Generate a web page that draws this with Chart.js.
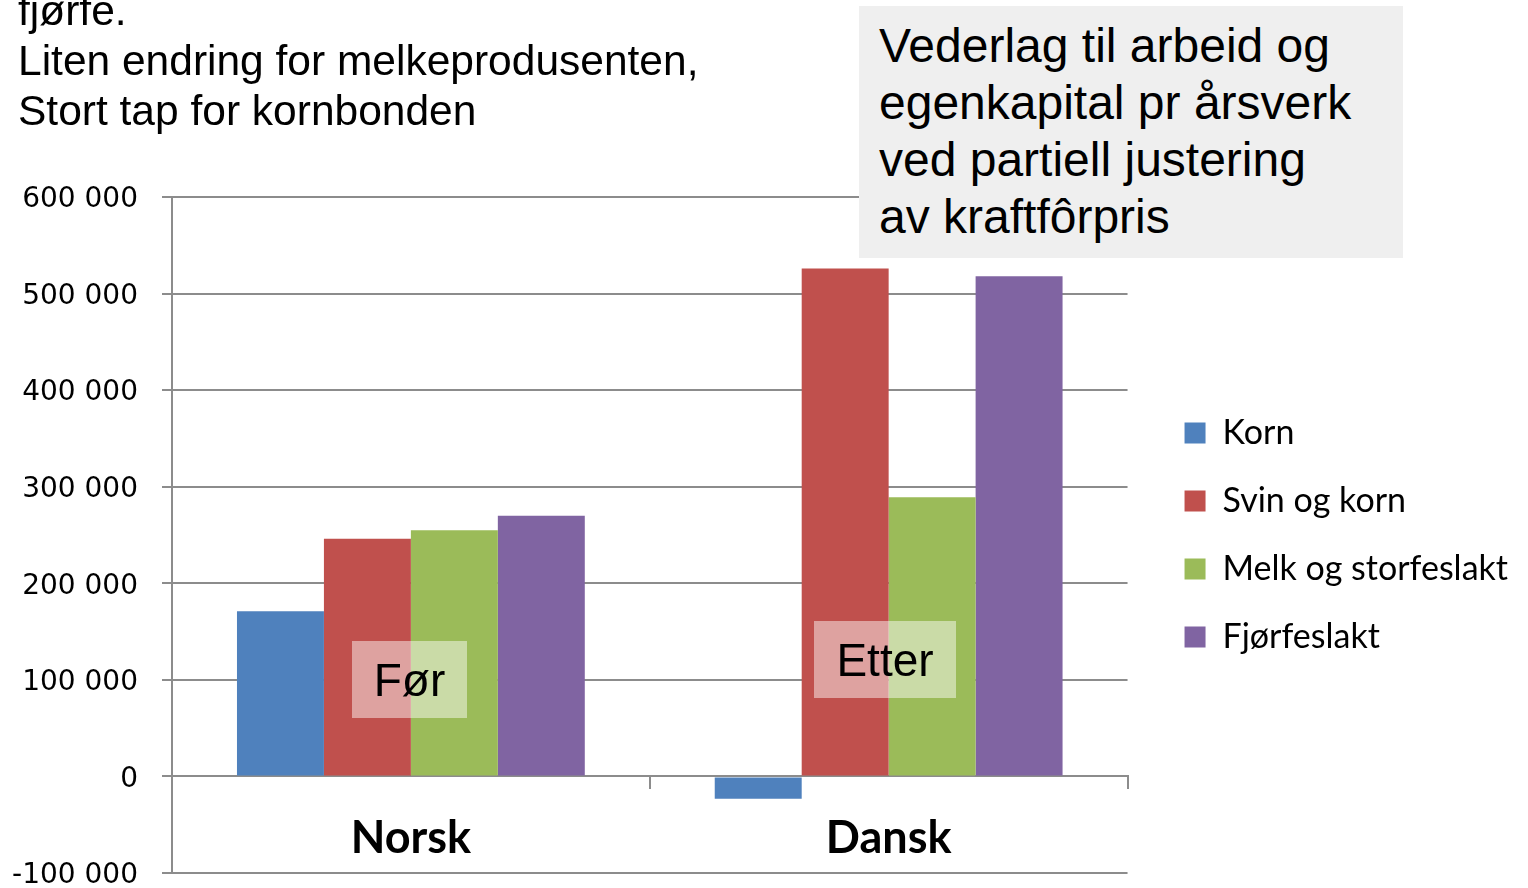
<!DOCTYPE html>
<html>
<head>
<meta charset="utf-8">
<script src="https://cdn.jsdelivr.net/npm/chart.js@4.4.1/dist/chart.umd.min.js"></script>
<style>
  html, body { margin: 0; padding: 0; background: #ffffff; }
  #wrap { position: relative; width: 1528px; height: 888px; overflow: hidden; }
  #chart { position: absolute; left: 0; top: 0; }
  .note { position: absolute; font-family: "Liberation Sans", Arial, sans-serif; color: #000; white-space: nowrap; }
  #topText { left: 18px; top: -14px; font-size: 42.5px; line-height: 50px; }
  #titleBox { left: 859px; top: 6px; width: 544px; height: 252px; background: #efefef; box-sizing: border-box;
              padding: 11px 0 0 20px; font-size: 48px; line-height: 57px; }
  .tag { position: absolute; background: rgba(255,255,255,0.47); font-family: "Liberation Sans", Arial, sans-serif;
         font-size: 46px; color: #000; display: flex; align-items: center; justify-content: center; }
  #tagFor { left: 352px; top: 641px; width: 115px; height: 77px; }
  #tagEtter { left: 814px; top: 621px; width: 142px; height: 77px; }
</style>
</head>
<body>
<div id="wrap">
  <canvas id="chart" width="1528" height="888"></canvas>
  <div id="topText" class="note">fjørfe.<br>Liten endring for melkeprodusenten,<br>Stort tap for kornbonden</div>
  <div id="titleBox" class="note">Vederlag til arbeid og<br>egenkapital pr årsverk<br>ved partiell justering<br>av kraftfôrpris</div>
  <div id="tagFor" class="tag">Før</div>
  <div id="tagEtter" class="tag">Etter</div>
</div>
<script>
const categories = ["Norsk", "Dansk"];
const seriesNames = ["Korn", "Svin og korn", "Melk og storfeslakt", "Fjørfeslakt"];
const korn = [171000, -23000];
const svinOgKorn = [246000, 526000];
const melkOgStorfeslakt = [255000, 289000];
const fjorfeslakt = [270000, 518000];
const seriesColors = ["#4f81bd", "#c0504d", "#9bbb59", "#8064a2"];
const yMin = -100000, yMax = 600000, yStep = 100000;

function fmt(v) {
  const s = String(Math.abs(v)).replace(/\B(?=(\d{3})+(?!\d))/g, " ");
  return (v < 0 ? "-" : "") + s;
}

const seriesValues = [korn, svinOgKorn, melkOgStorfeslakt, fjorfeslakt];
const gridColor = "#8c8c8c";

new Chart(document.getElementById("chart"), {
  type: "bar",
  data: {
    labels: categories,
    datasets: seriesNames.map((n, i) => ({
      label: n,
      data: seriesValues[i],
      backgroundColor: seriesColors[i],
      borderWidth: 0,
      categoryPercentage: 0.728,
      barPercentage: 1.0
    }))
  },
  options: {
    responsive: false,
    animation: false,
    layout: { padding: { left: 0, top: 197, right: 10, bottom: 15 } },
    plugins: {
      tooltip: { enabled: false },
      legend: {
        position: "right",
        align: "center",
        maxWidth: 600,
        labels: {
          font: { family: "Lato", size: 34 },
          color: "#000",
          boxWidth: 21,
          boxHeight: 21,
          padding: 34
        }
      }
    },
    scales: {
      x: {
        position: { y: 0 },
        grid: { display: true, drawOnChartArea: false, drawTicks: true, tickLength: 12, color: gridColor, lineWidth: 2, offset: true },
        border: { display: true, color: gridColor, width: 2 },
        ticks: { font: { family: "Lato", size: 45, weight: "bold" }, color: "#000", padding: 23 },
        afterFit: s => { s.height = 0; }
      },
      y: {
        min: yMin, max: yMax,
        ticks: { stepSize: yStep, font: { family: "DejaVu Sans", size: 28 }, color: "#000", padding: 24, labelOffset: 3, callback: v => fmt(v) },
        grid: { color: gridColor, lineWidth: 2, tickLength: 10 },
        border: { display: true, color: gridColor, width: 2 },
        afterFit: s => { s.width = 172; s.paddingTop = 0; s.paddingBottom = 0; }
      },
      yR: {
        position: "right",
        display: true,
        grid: { display: false, drawOnChartArea: false },
        border: { display: false },
        ticks: { display: false },
        afterFit: s => { s.width = 23; }
      }
    }
  }
});
</script>
</body>
</html>
